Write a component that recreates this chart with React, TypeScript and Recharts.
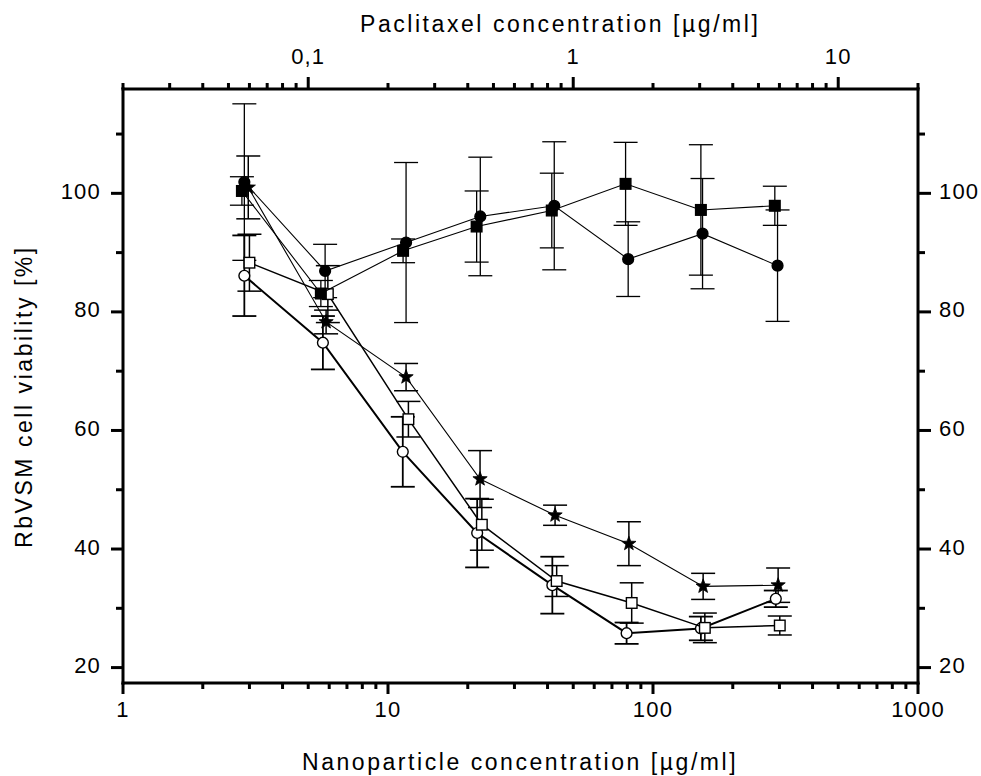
import { ScatterChart, Scatter, XAxis, YAxis, ErrorBar } from "recharts";

// nanoparticle concentration (µg/ml) per series
const xFilledSquare = [2.81, 5.58, 11.4, 21.6, 41.5, 78.8, 151.6, 288.2];
const xFilledCircle = [2.87, 5.79, 11.7, 22.3, 42.4, 80.6, 153.8, 295.1];
const xStar = [2.97, 5.84, 11.7, 22.25, 42.7, 81.1, 154.6, 296.6];
const xOpenSquare = [3.0, 5.93, 11.94, 22.6, 43.3, 83.1, 156.9, 300.9];
const xOpenCircle = [2.87, 5.68, 11.37, 21.7, 41.7, 79.5, 151.6, 290.7];

// viability (%) and error (±)
const yFilledSquare = [100.4, 83.1, 90.3, 94.4, 97.1, 101.6, 97.2, 97.9];
const eFilledSquare = [2.4, 2.2, 2.0, 6.0, 6.3, 7.0, 11.0, 3.3];
const yFilledCircle = [101.9, 86.9, 91.7, 96.1, 97.9, 88.9, 93.2, 87.8];
const eFilledCircle = [13.2, 4.5, 13.5, 10.0, 10.8, 6.3, 9.3, 9.4];
const yStar = [101.0, 78.3, 69.0, 51.8, 45.7, 40.9, 33.7, 33.9];
const eStar = [5.3, 2.0, 2.3, 4.8, 1.7, 3.7, 2.2, 2.9];
const yOpenSquare = [88.3, 83.0, 61.9, 44.1, 34.6, 30.9, 26.7, 27.1];
const eOpenSquare = [4.8, 4.8, 3.0, 4.3, 2.6, 3.4, 2.5, 1.6];
const yOpenCircle = [86.1, 74.8, 56.4, 42.7, 33.9, 25.8, 26.6, 31.6];
const eOpenCircle = [6.8, 4.5, 5.9, 5.8, 4.8, 1.8, 2.0, 1.4];

// axis ticks and labels
const bottomMajor = [1, 10, 100, 1000];
const bottomLabels = ["1", "10", "100", "1000"];
const topMajor = [0.1, 1, 10];
const topLabels = ["0,1", "1", "10"];
const yMajor = [20, 40, 60, 80, 100];
const yLabels = ["20", "40", "60", "80", "100"];
const yMinor = [30, 50, 70, 90, 110];

const minorSteps = [2, 3, 4, 5, 6, 7, 8, 9];
const bottomTicks = [
  ...bottomMajor,
  ...[1, 10, 100].flatMap((d) => minorSteps.map((k) => d * k)),
].sort((a, b) => a - b);
const topTicks = [
  0.02, 0.03, 0.04, 0.05, 0.06, 0.07, 0.08, 0.09,
  ...topMajor,
  ...[0.1, 1].flatMap((d) => minorSteps.map((k) => d * k)),
  20,
].sort((a, b) => a - b);
const yTicks = [...yMajor, ...yMinor].sort((a, b) => a - b);

const toPoints = (xs: number[], ys: number[], es: number[]) =>
  xs.map((x, i) => ({ x, y: ys[i], e: es[i] }));

const FONT = "'Liberation Sans', Arial, Helvetica, sans-serif";
const tickText = { fontFamily: FONT, fontSize: 22, letterSpacing: 1.2, fill: "#000" };
const titleText = { fontFamily: FONT, fontSize: 23, letterSpacing: 2.55, fill: "#000" };

const BottomTick = (props: any) => {
  const { x, y, payload } = props;
  const i = bottomMajor.indexOf(payload.value);
  return (
    <g>
      <line x1={x} y1={y} x2={x} y2={y + (i >= 0 ? 11 : 6)} stroke="#000" strokeWidth={3} />
      {i >= 0 && (
        <text x={x} y={y + 34} textAnchor="middle" style={tickText}>
          {bottomLabels[i]}
        </text>
      )}
    </g>
  );
};

const TopTick = (props: any) => {
  const { x, y, payload } = props;
  const i = topMajor.indexOf(payload.value);
  return (
    <g>
      <line x1={x} y1={y} x2={x} y2={y - (i >= 0 ? 12 : 6)} stroke="#000" strokeWidth={3} />
      {i >= 0 && (
        <text x={x} y={y - 25} textAnchor="middle" style={tickText}>
          {topLabels[i]}
        </text>
      )}
    </g>
  );
};

const LeftTick = (props: any) => {
  const { x, y, payload } = props;
  const i = yMajor.indexOf(payload.value);
  return (
    <g>
      <line x1={x} y1={y} x2={x - (i >= 0 ? 12 : 7)} y2={y} stroke="#000" strokeWidth={3} />
      {i >= 0 && (
        <text x={x - 22} y={y + 5.5} textAnchor="end" style={tickText}>
          {yLabels[i]}
        </text>
      )}
    </g>
  );
};

const RightTick = (props: any) => {
  const { x, y, payload } = props;
  const i = yMajor.indexOf(payload.value);
  return (
    <g>
      <line x1={x} y1={y} x2={x + (i >= 0 ? 13 : 7)} y2={y} stroke="#000" strokeWidth={3} />
      {i >= 0 && (
        <text x={x + 21} y={y + 5.5} textAnchor="start" style={tickText}>
          {yLabels[i]}
        </text>
      )}
    </g>
  );
};

const Title = ({ tx, ty, rotate, text }: any) => (
  <text
    x={tx}
    y={ty}
    textAnchor="start"
    transform={rotate ? `rotate(-90 ${tx} ${ty})` : undefined}
    style={titleText}
  >
    {text}
  </text>
);

const squareShape = (fill: string) => (p: any) =>
  <rect x={p.cx - 5.3} y={p.cy - 5.3} width={10.6} height={10.6} fill={fill} stroke="#000" strokeWidth={1.4} />;

const circleShape = (fill: string) => (p: any) =>
  <circle cx={p.cx} cy={p.cy} r={5.4} fill={fill} stroke="#000" strokeWidth={1.4} />;

const starShape = (p: any) => {
  const pts: string[] = [];
  for (let k = 0; k < 10; k++) {
    const r = k % 2 === 0 ? 7.5 : 3.1;
    const a = -Math.PI / 2 + (k * Math.PI) / 5;
    pts.push(`${p.cx + r * Math.cos(a)},${p.cy + r * Math.sin(a)}`);
  }
  return <polygon points={pts.join(" ")} fill="#000" stroke="#000" strokeWidth={0.8} />;
};

const axisLine = { stroke: "#000", strokeWidth: 3, strokeLinecap: "square" as const };

export default function App() {
  return (
    <div style={{ position: "absolute", left: 0, top: 0, background: "#fff" }}>
      <ScatterChart width={981} height={776} margin={{ top: 0, right: 0, bottom: 0, left: 0 }}>
        <XAxis
          xAxisId="bottom"
          orientation="bottom"
          type="number"
          dataKey="x"
          scale="log"
          domain={[1, 1000]}
          allowDataOverflow
          ticks={bottomTicks}
          interval={0}
          height={93}
          tickSize={0}
          tickMargin={0}
          tickLine={false}
          axisLine={axisLine}
          tick={BottomTick}
          label={<Title tx={302} ty={770} text="Nanoparticle concentration [µg/ml]" />}
        />
        <XAxis
          xAxisId="top"
          orientation="top"
          type="number"
          dataKey="x"
          scale="log"
          domain={[0.02, 20]}
          allowDataOverflow
          ticks={topTicks}
          interval={0}
          height={89}
          tickSize={0}
          tickMargin={0}
          tickLine={false}
          axisLine={axisLine}
          tick={TopTick}
          label={<Title tx={360} ty={32} text="Paclitaxel concentration [µg/ml]" />}
        />
        <YAxis
          yAxisId="left"
          orientation="left"
          type="number"
          dataKey="y"
          domain={[17.4, 117.6]}
          allowDataOverflow
          ticks={yTicks}
          interval={0}
          width={123}
          tickSize={0}
          tickMargin={0}
          tickLine={false}
          axisLine={axisLine}
          tick={LeftTick}
          label={<Title tx={32} ty={548} rotate text="RbVSM cell viability [%]" />}
        />
        <YAxis
          yAxisId="right"
          orientation="right"
          type="number"
          dataKey="y"
          domain={[17.4, 117.6]}
          allowDataOverflow
          ticks={yTicks}
          interval={0}
          width={63}
          tickSize={0}
          tickMargin={0}
          tickLine={false}
          axisLine={axisLine}
          tick={RightTick}
        />

        <Scatter
          name="open circle"
          data={toPoints(xOpenCircle, yOpenCircle, eOpenCircle)}
          xAxisId="bottom"
          yAxisId="left"
          line={{ stroke: "#000", strokeWidth: 2 }}
          shape={circleShape("#fff")}
          isAnimationActive={false}
        >
          <ErrorBar dataKey="e" direction="y" width={12} stroke="#000" strokeWidth={1.8} />
        </Scatter>
        <Scatter
          name="open square"
          data={toPoints(xOpenSquare, yOpenSquare, eOpenSquare)}
          xAxisId="bottom"
          yAxisId="left"
          line={{ stroke: "#000", strokeWidth: 1.5 }}
          shape={squareShape("#fff")}
          isAnimationActive={false}
        >
          <ErrorBar dataKey="e" direction="y" width={12} stroke="#000" strokeWidth={1.5} />
        </Scatter>
        <Scatter
          name="star"
          data={toPoints(xStar, yStar, eStar)}
          xAxisId="bottom"
          yAxisId="left"
          line={{ stroke: "#000", strokeWidth: 1.1 }}
          shape={starShape}
          isAnimationActive={false}
        >
          <ErrorBar dataKey="e" direction="y" width={12} stroke="#000" strokeWidth={1.5} />
        </Scatter>
        <Scatter
          name="filled square"
          data={toPoints(xFilledSquare, yFilledSquare, eFilledSquare)}
          xAxisId="bottom"
          yAxisId="left"
          line={{ stroke: "#000", strokeWidth: 1.1 }}
          shape={squareShape("#000")}
          isAnimationActive={false}
        >
          <ErrorBar dataKey="e" direction="y" width={12} stroke="#000" strokeWidth={1.3} />
        </Scatter>
        <Scatter
          name="filled circle"
          data={toPoints(xFilledCircle, yFilledCircle, eFilledCircle)}
          xAxisId="bottom"
          yAxisId="left"
          line={{ stroke: "#000", strokeWidth: 1.1 }}
          shape={circleShape("#000")}
          isAnimationActive={false}
        >
          <ErrorBar dataKey="e" direction="y" width={12} stroke="#000" strokeWidth={1.3} />
        </Scatter>
      </ScatterChart>
    </div>
  );
}
